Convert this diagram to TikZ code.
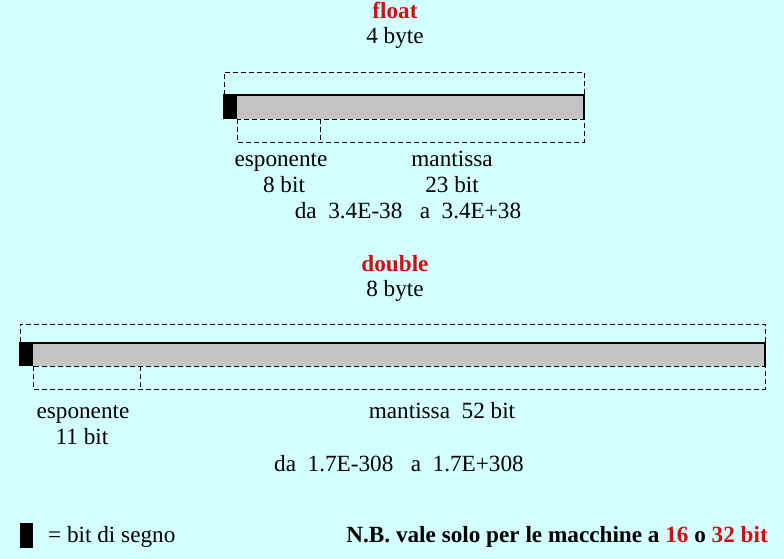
\documentclass[tikz,border=0pt]{standalone}
\usepackage{fontspec}
\setmainfont{Liberation Serif}
\usetikzlibrary{positioning}
\definecolor{PageCyan}{RGB}{212, 255, 255}
\definecolor{TypeRed}{RGB}{204, 17, 17}
\definecolor{BarGray}{RGB}{196, 196, 196}

\begin{document}
\begin{tikzpicture}[x=1pt, y=-1pt,
    txt/.style={inner sep=0pt, anchor=base, font=\fontsize{23.2}{27}\selectfont},
    title/.style={txt, text=TypeRed, font=\fontsize{23.2}{27}\selectfont\bfseries},
    field/.style={dash pattern=on 5pt off 3pt, line width=0.9pt},
    signbit/.style={fill=black, draw=none}]
    % sfondo
    \fill[PageCyan] (0,0) rectangle (784,559);
    \useasboundingbox (0,0) rectangle (784,559);

    % ---- float ----
    \node[title] (ftitle) at (395,19) {float};
    \node[txt] (fsize) at (395,44) {4 byte};
    \draw[field] (224,119) -- (224,72) -- (584,72) -- (584,119);
    \fill[BarGray] (237,95) rectangle (584,119);
    \draw[line width=2pt] (237,95) -- (584,95) -- (584,119);
    \fill[signbit] (223,94) rectangle (237,119);
    \draw[field] (237,119) rectangle (584,142);
    \draw[field] (320,119) -- (320,142);
    \node[txt] (fexp) at (281,166) {esponente};
    \node[txt] (fexpbit) at (284,192) {8 bit};
    \node[txt] (fman) at (452,166) {mantissa};
    \node[txt] (fmanbit) at (452,192) {23 bit};
    \node[txt] (frange) at (408,218) {da\ \ 3.4E-38\ \ \ a\ \ 3.4E+38};

    % ---- double ----
    \node[title] (dtitle) at (395,271) {double};
    \node[txt] (dsize) at (395,296) {8 byte};
    \draw[field] (20,366) -- (20,324) -- (765,324) -- (765,366);
    \fill[BarGray] (33,343) rectangle (765,366);
    \draw[line width=2pt] (33,343) -- (765,343) -- (765,366);
    \fill[signbit] (19,342) rectangle (33,366);
    \draw[field] (33,366) rectangle (765,389);
    \draw[field] (140,366) -- (140,389);
    \node[txt] (dexp) at (83,418) {esponente};
    \node[txt] (dexpbit) at (82,444) {11 bit};
    \node[txt] (dman) at (442,418) {mantissa\ \ 52 bit};
    \node[txt] (drange) at (399,471) {da\ \ 1.7E-308\ \ \ a\ \ 1.7E+308};

    % ---- legenda ----
    \fill[signbit] (20,523) rectangle (33,548);
    \node[txt, anchor=base west] (legend) at (48,542) {= bit di segno};
    \node[txt, anchor=base east, font=\fontsize{23.2}{27}\selectfont\bfseries] (note) at (768,542)
        {N.B. vale solo per le macchine a \textcolor{TypeRed}{16} o \textcolor{TypeRed}{32 bit}};
\end{tikzpicture}
\end{document}
